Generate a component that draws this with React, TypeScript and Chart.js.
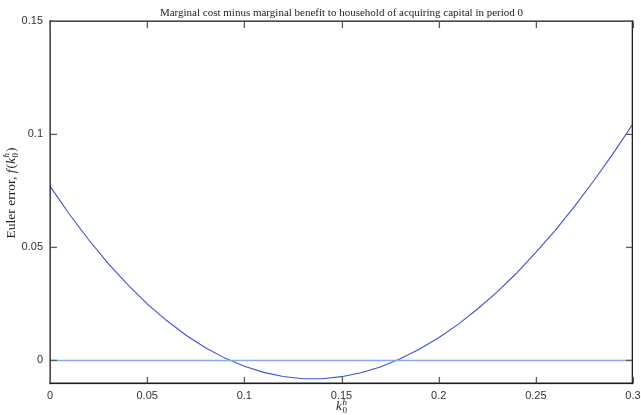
import React, { useEffect, useRef } from "react";
import { Chart, registerables } from "chart.js";
Chart.register(...registerables);

const kValues = [0, 0.01, 0.02, 0.03, 0.04, 0.05, 0.06, 0.07, 0.08, 0.09, 0.1, 0.11, 0.12, 0.13, 0.14, 0.15, 0.16, 0.17, 0.18, 0.19, 0.2, 0.21, 0.22, 0.23, 0.24, 0.25, 0.26, 0.27, 0.28, 0.29, 0.3];
const eulerError = [0.077, 0.0646, 0.0532, 0.0428, 0.0335, 0.025, 0.0176, 0.0111, 0.0056, 0.001, -0.0026, -0.0053, -0.0071, -0.0081, -0.0081, -0.0072, -0.0055, -0.0029, 0.0006, 0.0049, 0.01, 0.0159, 0.0227, 0.0302, 0.0385, 0.0477, 0.0575, 0.0682, 0.0796, 0.0917, 0.1046];
const zeroLineX = [0, 0.3];
const zeroLineY = [0, 0];
const xTicks = [0, 0.05, 0.1, 0.15, 0.2, 0.25, 0.3];
const yTicks = [0, 0.05, 0.1, 0.15];
const titleText = "Marginal cost minus marginal benefit to household of acquiring capital in period 0";
const yLabelText = "Euler error, ";

const fmt = (v: number) => String(Number(Number(v).toFixed(4)));

const SERIF = "'Liberation Serif', 'Times New Roman', serif";

function drawK(ctx: CanvasRenderingContext2D, x: number, y: number, size: number) {
  ctx.font = `italic ${size}px ${SERIF}`;
  ctx.textAlign = "left";
  ctx.textBaseline = "alphabetic";
  ctx.fillText("k", x, y);
  const kw = ctx.measureText("k").width;
  const small = Math.round(size * 0.7);
  ctx.font = `italic ${small}px ${SERIF}`;
  ctx.fillText("h", x + kw + 0.5, y - size * 0.42);
  const hw = ctx.measureText("h").width;
  ctx.font = `${small}px ${SERIF}`;
  ctx.fillText("0", x + kw + 0.5, y + size * 0.22);
  const zw = ctx.measureText("0").width;
  return kw + 0.5 + Math.max(hw, zw);
}

function kWidth(ctx: CanvasRenderingContext2D, size: number) {
  ctx.font = `italic ${size}px ${SERIF}`;
  const kw = ctx.measureText("k").width;
  ctx.font = `italic ${Math.round(size * 0.7)}px ${SERIF}`;
  return kw + 0.5 + ctx.measureText("h").width;
}

const decorPlugin = {
  id: "decor",
  afterDraw(chart: any) {
    const ctx: CanvasRenderingContext2D = chart.ctx;
    const { left, right, top, bottom } = chart.chartArea;
    const xs = chart.scales.x;
    const ys = chart.scales.y;
    ctx.save();
    ctx.globalAlpha = 1;
    const L = Math.round(left);
    const R = Math.round(right) - 1;
    const T = Math.round(top);
    const B = Math.round(bottom);
    // box
    ctx.fillStyle = "rgb(30,30,30)";
    ctx.fillRect(L - 0.5, T - 0.5, R - L + 2, 1.3);
    ctx.fillRect(L - 0.5, B - 0.5, R - L + 2, 1.6);
    ctx.fillRect(L - 0.5, T - 0.5, 1.3, B - T + 1.6);
    ctx.fillRect(R - 0.3, T - 0.5, 1.3, B - T + 1.6);
    // ticks inward
    ctx.fillStyle = "rgb(90,90,90)";
    const tl = 6;
    for (const v of xTicks) {
      const px = Math.round(xs.getPixelForValue(v));
      ctx.fillRect(px - 0.25, B - tl, 1.3, tl);
      ctx.fillRect(px - 0.25, T + 1, 1.3, tl);
    }
    for (const v of yTicks) {
      const py = Math.round(ys.getPixelForValue(v));
      ctx.fillRect(L + 1, py - 0.25, tl, 1.3);
      ctx.fillRect(R - tl, py - 0.25, tl, 1.3);
    }

    ctx.fillStyle = "#222";
    // title
    ctx.font = `11px ${SERIF}`;
    ctx.textAlign = "center";
    ctx.textBaseline = "alphabetic";
    const cx = (left + right) / 2;
    ctx.fillText(titleText, cx, top - 5);

    // x label
    {
      const size = 13;
      const w = kWidth(ctx, size);
      drawK(ctx, cx - w / 2, 410, size);
    }

    // y label rotated
    {
      const size = 13.5;
      ctx.save();
      const cy = 193;
      ctx.translate(15, cy);
      ctx.rotate(-Math.PI / 2);
      ctx.font = `${size}px ${SERIF}`;
      const w1 = ctx.measureText(yLabelText).width;
      ctx.font = `italic ${size}px ${SERIF}`;
      const wf = ctx.measureText("f").width;
      ctx.font = `${size}px ${SERIF}`;
      const wp = ctx.measureText("(").width;
      const wk = kWidth(ctx, size);
      const total = w1 + wf + 1 + wp * 2 + wk + 1;
      let x = -total / 2;
      ctx.textAlign = "left";
      ctx.font = `${size}px ${SERIF}`;
      ctx.fillText(yLabelText, x, 0);
      x += w1;
      ctx.font = `italic ${size}px ${SERIF}`;
      ctx.fillText("f", x, 0);
      x += wf + 1;
      ctx.font = `${size}px ${SERIF}`;
      ctx.fillText("(", x, 0);
      x += wp;
      x += drawK(ctx, x, 0, size) + 1;
      ctx.font = `${size}px ${SERIF}`;
      ctx.fillText(")", x, 0);
      ctx.restore();
    }
    ctx.restore();
  },
};

export default function App() {
  const ref = useRef<HTMLCanvasElement>(null);
  useEffect(() => {
    if (!ref.current) return;
    const tickFont = { family: "'Liberation Sans', Arial, sans-serif", size: 11 };
    const chart = new Chart(ref.current, {
      type: "scatter",
      data: {
        datasets: [
          {
            data: zeroLineX.map((x, i) => ({ x, y: zeroLineY[i] })),
            showLine: true,
            borderColor: "#86aaf2",
            borderWidth: 1.5,
            pointRadius: 0,
          },
          {
            data: kValues.map((x, i) => ({ x, y: eulerError[i] })),
            showLine: true,
            borderColor: "#3f51d4",
            borderWidth: 1.1,
            pointRadius: 0,
          },
        ],
      },
      options: {
        responsive: false,
        animation: false,
        layout: { padding: { top: 21, right: 8, left: 0, bottom: 0 } },
        plugins: { legend: { display: false }, tooltip: { enabled: false } },
        scales: {
          x: {
            type: "linear",
            min: 0,
            max: 0.3,
            afterBuildTicks: (s: any) => {
              s.ticks = xTicks.map((v) => ({ value: v }));
            },
            afterFit: (s: any) => {
              s.height = 32;
              s.paddingLeft = 0;
              s.paddingRight = 0;
            },
            ticks: {
              callback: (v: any) => fmt(v),
              font: tickFont,
              color: "#333",
              padding: 6,
              maxRotation: 0,
              autoSkip: false,
            },
            grid: { display: false, drawTicks: false },
            border: { display: false },
          },
          y: {
            type: "linear",
            min: -0.01,
            max: 0.15,
            afterBuildTicks: (s: any) => {
              s.ticks = yTicks.map((v) => ({ value: v }));
            },
            afterFit: (s: any) => {
              s.width = 50;
              s.paddingTop = 0;
              s.paddingBottom = 0;
            },
            ticks: {
              callback: (v: any) => fmt(v),
              font: tickFont,
              color: "#333",
              padding: 7,
              autoSkip: false,
            },
            grid: { display: false, drawTicks: false },
            border: { display: false },
          },
        },
      },
      plugins: [decorPlugin],
    } as any);
    return () => chart.destroy();
  }, []);
  return (
    <div style={{ position: "absolute", left: 0, top: 0, width: 641, height: 415, background: "#fff" }}>
      <canvas ref={ref} width={641} height={415} />
    </div>
  );
}
